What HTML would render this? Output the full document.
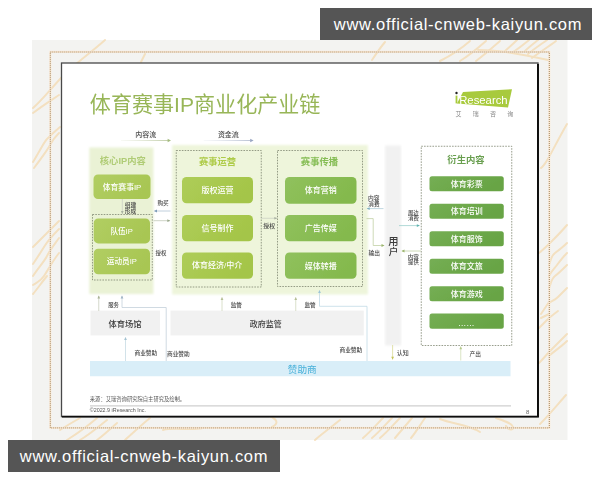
<!DOCTYPE html>
<html lang="zh"><head><meta charset="utf-8"><title>体育赛事IP商业化产业链</title>
<style>
html,body{margin:0;padding:0;background:#fff;}
body{width:600px;height:480px;position:relative;overflow:hidden;font-family:"Liberation Sans",sans-serif;}
#art{position:absolute;left:0;top:0;width:600px;height:480px;display:block;}
#art svg{display:block;}
#art svg text{font-family:"Liberation Sans","Noto Sans CJK SC",sans-serif;}
#txt span{position:absolute;white-space:nowrap;color:transparent;line-height:1.2;font-family:"Liberation Sans",sans-serif;}
.wm{position:absolute;width:272px;height:32px;background:#555555;color:#fff;font-size:16.5px;line-height:33px;text-align:center;box-sizing:border-box;letter-spacing:0.7px;white-space:nowrap;}
#wm1{left:320px;top:8px;padding-left:4px;}
#wm2{left:8px;top:440px;}
</style></head><body>
<div id="art"><svg width="600" height="480" viewBox="0 0 600 480"><defs><filter id="bl" x="-2%" y="-2%" width="104%" height="104%"><feGaussianBlur stdDeviation="0.55"/></filter><filter id="bl3" x="-5%" y="-5%" width="110%" height="110%"><feGaussianBlur stdDeviation="0.5"/></filter><filter id="bl2" x="-5%" y="-5%" width="110%" height="110%"><feGaussianBlur stdDeviation="0.9"/></filter></defs><rect x="32" y="40" width="535.5" height="400" fill="#f3f3f1"/><g filter="url(#bl)"><g id="veins" fill="none" stroke="#f4ddb8" stroke-width="2" stroke-linecap="round" opacity="0.85" filter="url(#bl3)">
<path d="M105 40 C92 52 74 64 61 78 S42 100 33 108"/>
<path d="M59 95 C50 101 42 106 33 113"/>
<path d="M60 127 C54 132 50 136 47 139 S38 154 33 162"/>
<path d="M59 133 C55 137 52 141 50 145 S40 160 34 168"/>
<path d="M59 221 C50 230 42 238 33 247"/>
<path d="M59 229 C52 236 47 242 44 247 S37 258 33 264"/>
<path d="M59 238 C54 245 50 250 47 256 S38 268 33 276"/>
<path d="M59 253 C52 262 48 270 44 276 S37 282 33 285"/>
<path d="M47 276 C42 282 38 288 33 294"/>
<path d="M145 54 L141 62"/>
<path d="M97 418 C88 426 78 433 67 440"/>
<path d="M107 420 C98 427 90 434 80 440"/>
<path d="M117 423 C110 429 104 435 97 440"/>
<path d="M80 418 C73 422 66 426 60 430"/>
<path d="M163 430 C175 427 190 431 203 428"/>
<path d="M150 418 C140 426 132 434 125 440"/>
<path d="M270 416 C276 419 280 423 272 427"/>
<path d="M383 418 C376 425 370 432 363 438"/>
<path d="M392 418 C385 425 379 432 372 438"/>
<path d="M400 418 C393 425 387 432 380 438"/>
<path d="M412 418 C406 425 400 432 395 438"/>
<path d="M425 418 C420 425 416 432 411 438"/>
<path d="M440 419 C452 424 468 424 480 432"/>
<path d="M496 418 C504 421 512 423 513 427 S508 430 506 426"/>
<path d="M340 420 C330 428 322 434 315 440"/>
<path d="M385 42 C380 48 376 54 372 60"/>
<path d="M470 41 C462 48 452 55 440 61"/>
<path d="M486 41 C478 48 470 55 460 61"/>
<path d="M500 41 C492 48 484 55 476 61"/>
<path d="M517 40 C512 45 508 48 504 52"/>
<path d="M529 40 C523 45 518 49 513 52"/>
<path d="M538 40 C533 44 529 47 525 51"/>
<path d="M547 40 C540 45 534 49 528 54"/>
<path d="M556 41 C548 47 540 52 532 58"/>
<path d="M478 50 C500 50 520 54 548 60"/>
<path d="M567 124 C560 136 554 148 549 157 S544 165 541 168"/>
<path d="M567 225 C562 231 557 236 552 241 S544 249 539 253"/>
<path d="M567 243 C563 247 559 250 555 253 S551 260 549 265"/>
<path d="M567 253 C563 257 560 261 557 265 S551 272 549 276"/>
<path d="M567 265 C563 269 559 273 555 276 S551 284 549 288"/>
<path d="M567 288 C564 291 561 294 558 297 S552 301 549 303"/>
<path d="M549 314 L541 318"/>
<path d="M558 311 C554 314 550 317 547 320 S542 325 539 328"/>
<path d="M549 302 L541 314"/>
<path d="M567 334 C562 339 557 344 552 349 S544 358 539 363"/>
<path d="M567 341 C562 346 556 350 550 355"/>
<path d="M566 395 C558 404 550 414 540 424"/>
</g>
<rect x="50.30" y="51.80" width="499.00" height="376.10" fill="none" stroke="#fbe9d6" stroke-width="2.0"/>
<rect x="50.30" y="52.00" width="499.00" height="375.90" fill="none" stroke="#9a7f55" stroke-width="0.9" stroke-dasharray="1 1"/>
<rect x="61.50" y="63.00" width="476.50" height="353.60" fill="#ffffff" stroke="#484848" stroke-width="1.3"/>
<path d="M538 64 V416.6 H62" stroke="#0a0a0a" stroke-width="1.9" fill="none"/>
<text x="89.87" y="112.26" font-size="21.07" fill="#98b658">体育赛事IP商业化产业链</text>
<text x="135.24" y="136.68" font-size="6.99" font-weight="500" fill="#4c4c4c">内容流</text>
<text x="217.91" y="137.18" font-size="6.97" font-weight="500" fill="#4c4c4c">资金流</text>
<defs><linearGradient id="ga" x1="0" x2="1" y1="0" y2="0"><stop offset="0" stop-color="#d8dfc8" stop-opacity="0.2"/><stop offset="1" stop-color="#bccaa2"/></linearGradient><linearGradient id="gb" x1="0" x2="1" y1="0" y2="0"><stop offset="0" stop-color="#d5dbe6" stop-opacity="0.2"/><stop offset="1" stop-color="#b4bdd0"/></linearGradient></defs>
<rect x="121" y="140.1" width="47" height="0.9" fill="url(#ga)"/>
<path d="M171 140.5 L167.6 138.8 V142.2Z" fill="#a5bb80"/>
<rect x="203.7" y="140.1" width="47" height="0.9" fill="url(#gb)"/>
<path d="M253.6 140.5 L250.2 138.8 V142.2Z" fill="#98a5c2"/>
<rect x="89.30" y="147.50" width="64.10" height="146.50" fill="#eaf2d5" filter="url(#bl2)"/>
<rect x="172.10" y="145.00" width="195.80" height="149.50" fill="#eef5db" filter="url(#bl2)"/>
<rect x="385.10" y="145.50" width="15.90" height="200.00" fill="#f1f1f1" filter="url(#bl2)"/>
<rect x="92.50" y="214.50" width="59.80" height="65.50" fill="none" stroke="#7d8570" stroke-width="0.8" stroke-dasharray="1.6 1.2"/>
<rect x="176.25" y="150.50" width="85.00" height="136.50" fill="none" stroke="#7d8570" stroke-width="0.8" stroke-dasharray="1.6 1.2"/>
<rect x="277.50" y="150.50" width="85.00" height="136.00" fill="none" stroke="#7d8570" stroke-width="0.8" stroke-dasharray="1.6 1.2"/>
<rect x="421.25" y="146.25" width="90.50" height="199.25" fill="#fff" stroke="#7d8570" stroke-width="0.8" stroke-dasharray="1.6 1.2"/>
<text x="99.81" y="164.07" font-size="9.30" font-weight="700" fill="#b0cc76">核心IP内容</text>
<text x="199.09" y="164.77" font-size="9.23" font-weight="700" fill="#aecb48">赛事运营</text>
<text x="300.79" y="164.60" font-size="9.35" font-weight="700" fill="#86bd55">赛事传播</text>
<text x="447.29" y="163.35" font-size="9.37" font-weight="700" fill="#699f50">衍生内容</text>
<defs><linearGradient id="bg0" x1="0" y1="0" x2="1" y2="0.35"><stop offset="0" stop-color="#b1ce62"/><stop offset="1" stop-color="#a8c653"/></linearGradient></defs>
<rect x="93.50" y="174.50" width="57.00" height="24.50" fill="url(#bg0)" rx="4.5"/>
<text x="102.76" y="189.74" font-size="7.80" font-weight="500" fill="#fff">体育赛事IP</text>
<rect x="93.70" y="218.40" width="56.30" height="25.00" fill="url(#bg0)" rx="4.5"/>
<text x="110.43" y="233.78" font-size="7.60" font-weight="500" fill="#fff">队伍IP</text>
<rect x="93.70" y="248.80" width="56.30" height="25.40" fill="url(#bg0)" rx="4.5"/>
<text x="106.87" y="264.30" font-size="7.60" font-weight="500" fill="#fff">运动员IP</text>
<defs><linearGradient id="bg1" x1="0" y1="0" x2="1" y2="0.35"><stop offset="0" stop-color="#aecd58"/><stop offset="1" stop-color="#a4c548"/></linearGradient></defs>
<rect x="182.00" y="177.00" width="71.00" height="26.25" fill="url(#bg1)" rx="4.5"/>
<text x="201.62" y="193.15" font-size="8" font-weight="500" fill="#fff">版权运营</text>
<rect x="182.00" y="215.00" width="71.00" height="26.25" fill="url(#bg1)" rx="4.5"/>
<text x="201.52" y="231.16" font-size="8" font-weight="500" fill="#fff">信号制作</text>
<rect x="182.00" y="252.50" width="71.00" height="26.25" fill="url(#bg1)" rx="4.5"/>
<text x="191.92" y="268.32" font-size="8" font-weight="500" fill="#fff">体育经济/中介</text>
<defs><linearGradient id="bg2" x1="0" y1="0" x2="1" y2="0.35"><stop offset="0" stop-color="#90c15d"/><stop offset="1" stop-color="#84b94d"/></linearGradient></defs>
<rect x="285.00" y="177.00" width="71.50" height="26.75" fill="url(#bg2)" rx="4.5"/>
<text x="304.83" y="193.45" font-size="8" font-weight="500" fill="#fff">体育营销</text>
<rect x="285.00" y="215.00" width="71.50" height="26.25" fill="url(#bg2)" rx="4.5"/>
<text x="304.71" y="231.13" font-size="8" font-weight="500" fill="#fff">广告传媒</text>
<rect x="285.00" y="252.50" width="71.50" height="26.25" fill="url(#bg2)" rx="4.5"/>
<text x="304.72" y="268.65" font-size="8" font-weight="500" fill="#fff">媒体转播</text>
<defs><linearGradient id="bg3" x1="0" y1="0" x2="1" y2="0.35"><stop offset="0" stop-color="#75ae54"/><stop offset="1" stop-color="#67a444"/></linearGradient></defs>
<rect x="429.50" y="176.25" width="74.25" height="15.00" fill="url(#bg3)" rx="2.5"/>
<text x="450.73" y="186.83" font-size="8" font-weight="500" fill="#fff">体育彩票</text>
<rect x="429.50" y="203.75" width="74.25" height="15.00" fill="url(#bg3)" rx="2.5"/>
<text x="450.81" y="214.33" font-size="8" font-weight="500" fill="#fff">体育培训</text>
<rect x="429.50" y="231.25" width="74.25" height="15.00" fill="url(#bg3)" rx="2.5"/>
<text x="450.73" y="241.82" font-size="8" font-weight="500" fill="#fff">体育服饰</text>
<rect x="429.50" y="258.75" width="74.25" height="15.00" fill="url(#bg3)" rx="2.5"/>
<text x="450.68" y="269.33" font-size="8" font-weight="500" fill="#fff">体育文旅</text>
<rect x="429.50" y="286.25" width="74.25" height="15.00" fill="url(#bg3)" rx="2.5"/>
<text x="450.68" y="296.83" font-size="8" font-weight="500" fill="#fff">体育游戏</text>
<rect x="429.50" y="313.50" width="74.25" height="15.20" fill="url(#bg3)" rx="2.5"/>
<text x="458.01" y="326.15" font-size="8.29" font-weight="500" fill="#fff">……</text>
<text x="388.31" y="244.82" font-size="10.29" font-weight="500" fill="#3a3a3a">用</text>
<text x="388.80" y="254.74" font-size="9.60" font-weight="500" fill="#3a3a3a">户</text>
<text x="124.72" y="207.40" font-size="5.77" font-weight="500" fill="#484848">组建</text>
<text x="124.77" y="212.97" font-size="5.75" font-weight="500" fill="#484848">形成</text>
<text x="157.46" y="204.88" font-size="5.61" font-weight="500" fill="#484848">购买</text>
<text x="155.51" y="254.83" font-size="5.50" font-weight="500" fill="#484848">授权</text>
<text x="263.23" y="228.23" font-size="5.91" font-weight="500" fill="#484848">授权</text>
<text x="367.90" y="200.02" font-size="5.78" font-weight="500" fill="#484848">内容</text>
<text x="368.26" y="205.54" font-size="5.63" font-weight="500" fill="#484848">消费</text>
<text x="368.44" y="254.90" font-size="5.74" font-weight="500" fill="#484848">输出</text>
<text x="408.01" y="214.90" font-size="5.38" font-weight="500" fill="#484848">周边</text>
<text x="407.97" y="220.23" font-size="5.46" font-weight="500" fill="#484848">消费</text>
<text x="407.63" y="259.25" font-size="5.60" font-weight="500" fill="#484848">内容</text>
<text x="408.02" y="264.45" font-size="5.41" font-weight="500" fill="#484848">提供</text>
<text x="108.25" y="306.94" font-size="5.39" font-weight="500" fill="#484848">服务</text>
<text x="230.65" y="306.65" font-size="5.63" font-weight="500" fill="#484848">监管</text>
<text x="304.40" y="306.65" font-size="5.63" font-weight="500" fill="#484848">监管</text>
<text x="134.44" y="355.06" font-size="5.73" font-weight="500" fill="#484848">商业赞助</text>
<text x="166.94" y="356.06" font-size="5.73" font-weight="500" fill="#484848">商业赞助</text>
<text x="339.44" y="351.93" font-size="5.73" font-weight="500" fill="#484848">商业赞助</text>
<text x="396.87" y="354.53" font-size="6.01" font-weight="500" fill="#484848">认知</text>
<text x="469.48" y="355.65" font-size="5.72" font-weight="500" fill="#484848">产出</text>
<rect x="90.50" y="310.60" width="69.50" height="24.80" fill="#f1f1f1"/>
<rect x="170.50" y="310.60" width="193.25" height="24.80" fill="#f1f1f1"/>
<text x="108.56" y="326.56" font-size="8.28" font-weight="500" fill="#3c3c3c">体育场馆</text>
<text x="249.78" y="326.80" font-size="7.98" font-weight="500" fill="#3c3c3c">政府监管</text>
<rect x="90.00" y="361.00" width="420.50" height="15.25" fill="#d9eef8"/>
<text x="287.87" y="373.05" font-size="9.65" fill="#47b0d9">赞助商</text>
<path d="M122.30 199.00 L122.30 213.60" stroke="#c7ccc2" stroke-width="0.75" fill="none"/>
<path d="M122.30 214.10 L120.92 211.10 L123.67 211.10Z" fill="#aab2a2"/>
<path d="M170.50 211.00 L154.50 211.00" stroke="#abbfd0" stroke-width="0.75" fill="none"/>
<path d="M154.00 211.00 L157.00 209.62 L157.00 212.38Z" fill="#7f9db8"/>
<path d="M153.50 220.70 L169.80 220.70" stroke="#bdc6b4" stroke-width="0.75" fill="none"/>
<path d="M170.30 220.70 L167.30 222.07 L167.30 219.32Z" fill="#9aa88c"/>
<path d="M261.50 218.25 L276.80 218.25" stroke="#c7ccc2" stroke-width="0.75" fill="none"/>
<path d="M277.30 218.25 L274.30 219.62 L274.30 216.88Z" fill="#aab2a2"/>
<path d="M383.50 208.60 L367.20 208.60" stroke="#abcbd6" stroke-width="0.75" fill="none"/>
<path d="M366.70 208.60 L369.70 207.22 L369.70 209.97Z" fill="#7fb0c0"/>
<path d="M366.50 218.60 L373.20 218.60 L373.20 245.50 L384.00 245.50" stroke="#becea0" stroke-width="0.75" fill="none"/>
<path d="M384.50 245.50 L381.50 246.88 L381.50 244.12Z" fill="#9cb56e"/>
<path d="M399.00 225.60 L419.30 225.60" stroke="#97cdcb" stroke-width="0.75" fill="none"/>
<path d="M419.80 225.60 L416.80 226.97 L416.80 224.22Z" fill="#5fb3b0"/>
<path d="M420.80 251.00 L402.00 251.00" stroke="#becea0" stroke-width="0.75" fill="none"/>
<path d="M401.50 251.00 L404.50 249.62 L404.50 252.38Z" fill="#9cb56e"/>
<path d="M98.75 311.00 L98.75 296.00" stroke="#c7ccb9" stroke-width="0.75" fill="none"/>
<path d="M98.75 295.50 L100.12 298.50 L97.38 298.50Z" fill="#a9b294"/>
<path d="M166.20 361.00 L166.20 307.50 L122.00 307.50 L122.00 296.00" stroke="#c0ced8" stroke-width="0.75" fill="none"/>
<path d="M122.00 295.50 L123.38 298.50 L120.62 298.50Z" fill="#9fb4c4"/>
<path d="M125.50 361.00 L125.50 337.50" stroke="#c3d8e1" stroke-width="0.75" fill="none"/>
<path d="M125.50 337.00 L126.88 340.00 L124.12 340.00Z" fill="#a4c3d2"/>
<path d="M222.00 311.00 L222.00 297.50" stroke="#ced5ba" stroke-width="0.75" fill="none"/>
<path d="M222.00 297.00 L223.38 300.00 L220.62 300.00Z" fill="#b5bf95"/>
<path d="M295.75 311.00 L295.75 297.50" stroke="#ced5ba" stroke-width="0.75" fill="none"/>
<path d="M295.75 297.00 L297.12 300.00 L294.38 300.00Z" fill="#b5bf95"/>
<path d="M367.00 361.00 L367.00 306.30 L319.50 306.30 L319.50 290.50" stroke="#bed8e4" stroke-width="0.75" fill="none"/>
<path d="M319.50 290.00 L320.88 293.00 L318.12 293.00Z" fill="#9cc4d6"/>
<path d="M392.60 345.00 L392.60 359.30" stroke="#d9d993" stroke-width="0.75" fill="none"/>
<path d="M392.60 359.80 L391.23 356.80 L393.98 356.80Z" fill="#c5c55a"/>
<path d="M460.75 360.50 L460.75 346.80" stroke="#cedbb2" stroke-width="0.75" fill="none"/>
<path d="M460.75 346.30 L462.12 349.30 L459.38 349.30Z" fill="#b5c98a"/>
<text x="89.82" y="400.51" font-size="5.31" fill="#555">来源：艾瑞咨询研究院自主研究及绘制。</text>
<path d="M90 405.9 H511" stroke="#cfcfcf" stroke-width="1.4" fill="none"/>
<text x="89.70" y="412.36" font-size="5.38" fill="#555">©2022.9 iResearch Inc.</text>
<text x="525.92" y="413.56" font-size="6.05" fill="#666">8</text>
<path d="M463 92 L512 89.2 L508 107.5 L457 103.6Z" fill="#a8ca3c"/>
<text x="459.16" y="103.58" font-size="11.33" fill="#fff">Research</text>
<circle cx="456.5" cy="93" r="1.2" fill="#222"/>
<path d="M455.6 95.6 h1.8 v7.8 h-1.8z" fill="#a8ca3c"/>
<text x="455.53" y="115.87" font-size="5.97" fill="#888">艾</text>
<text x="472.85" y="115.84" font-size="5.91" fill="#888">瑞</text>
<text x="490.01" y="115.85" font-size="6.00" fill="#888">咨</text>
<text x="507.35" y="115.89" font-size="6.01" fill="#888">询</text></g></svg></div>
<div id="txt"><span style="left:90.5px;top:91.6px;font-size:21.1px">体育赛事IP商业化产业链</span><span style="left:135.9px;top:129.8px;font-size:7.0px">内容流</span><span style="left:218.2px;top:130.3px;font-size:7.0px">资金流</span><span style="left:100.0px;top:154.9px;font-size:9.3px">核心IP内容</span><span style="left:199.3px;top:155.7px;font-size:9.2px">赛事运营</span><span style="left:301.0px;top:155.4px;font-size:9.3px">赛事传播</span><span style="left:447.5px;top:154.1px;font-size:9.4px">衍生内容</span><span style="left:102.9px;top:182.1px;font-size:7.8px">体育赛事IP</span><span style="left:111.1px;top:226.3px;font-size:7.6px">队伍IP</span><span style="left:107.1px;top:256.9px;font-size:7.6px">运动员IP</span><span style="left:201.8px;top:185.3px;font-size:8.0px">版权运营</span><span style="left:201.7px;top:223.3px;font-size:8.0px">信号制作</span><span style="left:192.1px;top:260.8px;font-size:8.0px">体育经济/中介</span><span style="left:305.0px;top:185.6px;font-size:8.0px">体育营销</span><span style="left:305.0px;top:223.3px;font-size:8.0px">广告传媒</span><span style="left:304.9px;top:260.8px;font-size:8.0px">媒体转播</span><span style="left:450.9px;top:178.9px;font-size:8.0px">体育彩票</span><span style="left:451.0px;top:206.4px;font-size:8.0px">体育培训</span><span style="left:450.9px;top:233.9px;font-size:8.0px">体育服饰</span><span style="left:450.9px;top:261.4px;font-size:8.0px">体育文旅</span><span style="left:450.9px;top:288.9px;font-size:8.0px">体育游戏</span><span style="left:458.8px;top:318.0px;font-size:8.3px">……</span><span style="left:388.6px;top:235.1px;font-size:10.3px">用</span><span style="left:389.1px;top:245.3px;font-size:9.6px">户</span><span style="left:124.9px;top:201.7px;font-size:5.8px">组建</span><span style="left:124.9px;top:207.3px;font-size:5.8px">形成</span><span style="left:157.7px;top:199.4px;font-size:5.6px">购买</span><span style="left:155.7px;top:249.4px;font-size:5.5px">授权</span><span style="left:263.4px;top:222.5px;font-size:5.9px">授权</span><span style="left:368.4px;top:194.3px;font-size:5.8px">内容</span><span style="left:368.4px;top:200.0px;font-size:5.6px">消费</span><span style="left:368.6px;top:249.3px;font-size:5.7px">输出</span><span style="left:408.2px;top:209.7px;font-size:5.4px">周边</span><span style="left:408.2px;top:214.9px;font-size:5.5px">消费</span><span style="left:408.2px;top:253.7px;font-size:5.6px">内容</span><span style="left:408.2px;top:259.2px;font-size:5.4px">提供</span><span style="left:108.4px;top:301.7px;font-size:5.4px">服务</span><span style="left:230.9px;top:301.1px;font-size:5.6px">监管</span><span style="left:304.6px;top:301.1px;font-size:5.6px">监管</span><span style="left:134.8px;top:349.4px;font-size:5.7px">商业赞助</span><span style="left:167.3px;top:350.4px;font-size:5.7px">商业赞助</span><span style="left:339.8px;top:346.3px;font-size:5.7px">商业赞助</span><span style="left:397.1px;top:348.6px;font-size:6.0px">认知</span><span style="left:469.6px;top:350.1px;font-size:5.7px">产出</span><span style="left:108.8px;top:318.4px;font-size:8.3px">体育场馆</span><span style="left:250.0px;top:319.0px;font-size:8.0px">政府监管</span><span style="left:288.2px;top:363.6px;font-size:9.7px">赞助商</span><span style="left:90.0px;top:395.3px;font-size:5.3px">来源：艾瑞咨询研究院自主研究及绘制。</span><span style="left:90.0px;top:407.0px;font-size:5.4px">©2022.9 iResearch Inc.</span><span style="left:526.2px;top:407.7px;font-size:6.0px">8</span><span style="left:455.5px;top:92.4px;font-size:11.3px">iResearch</span><span style="left:455.8px;top:110px;font-size:6px;letter-spacing:11px">艾瑞咨询</span></div>
<div class="wm" id="wm1">www.official-cnweb-kaiyun.com</div>
<div class="wm" id="wm2">www.official-cnweb-kaiyun.com</div>
</body></html>
